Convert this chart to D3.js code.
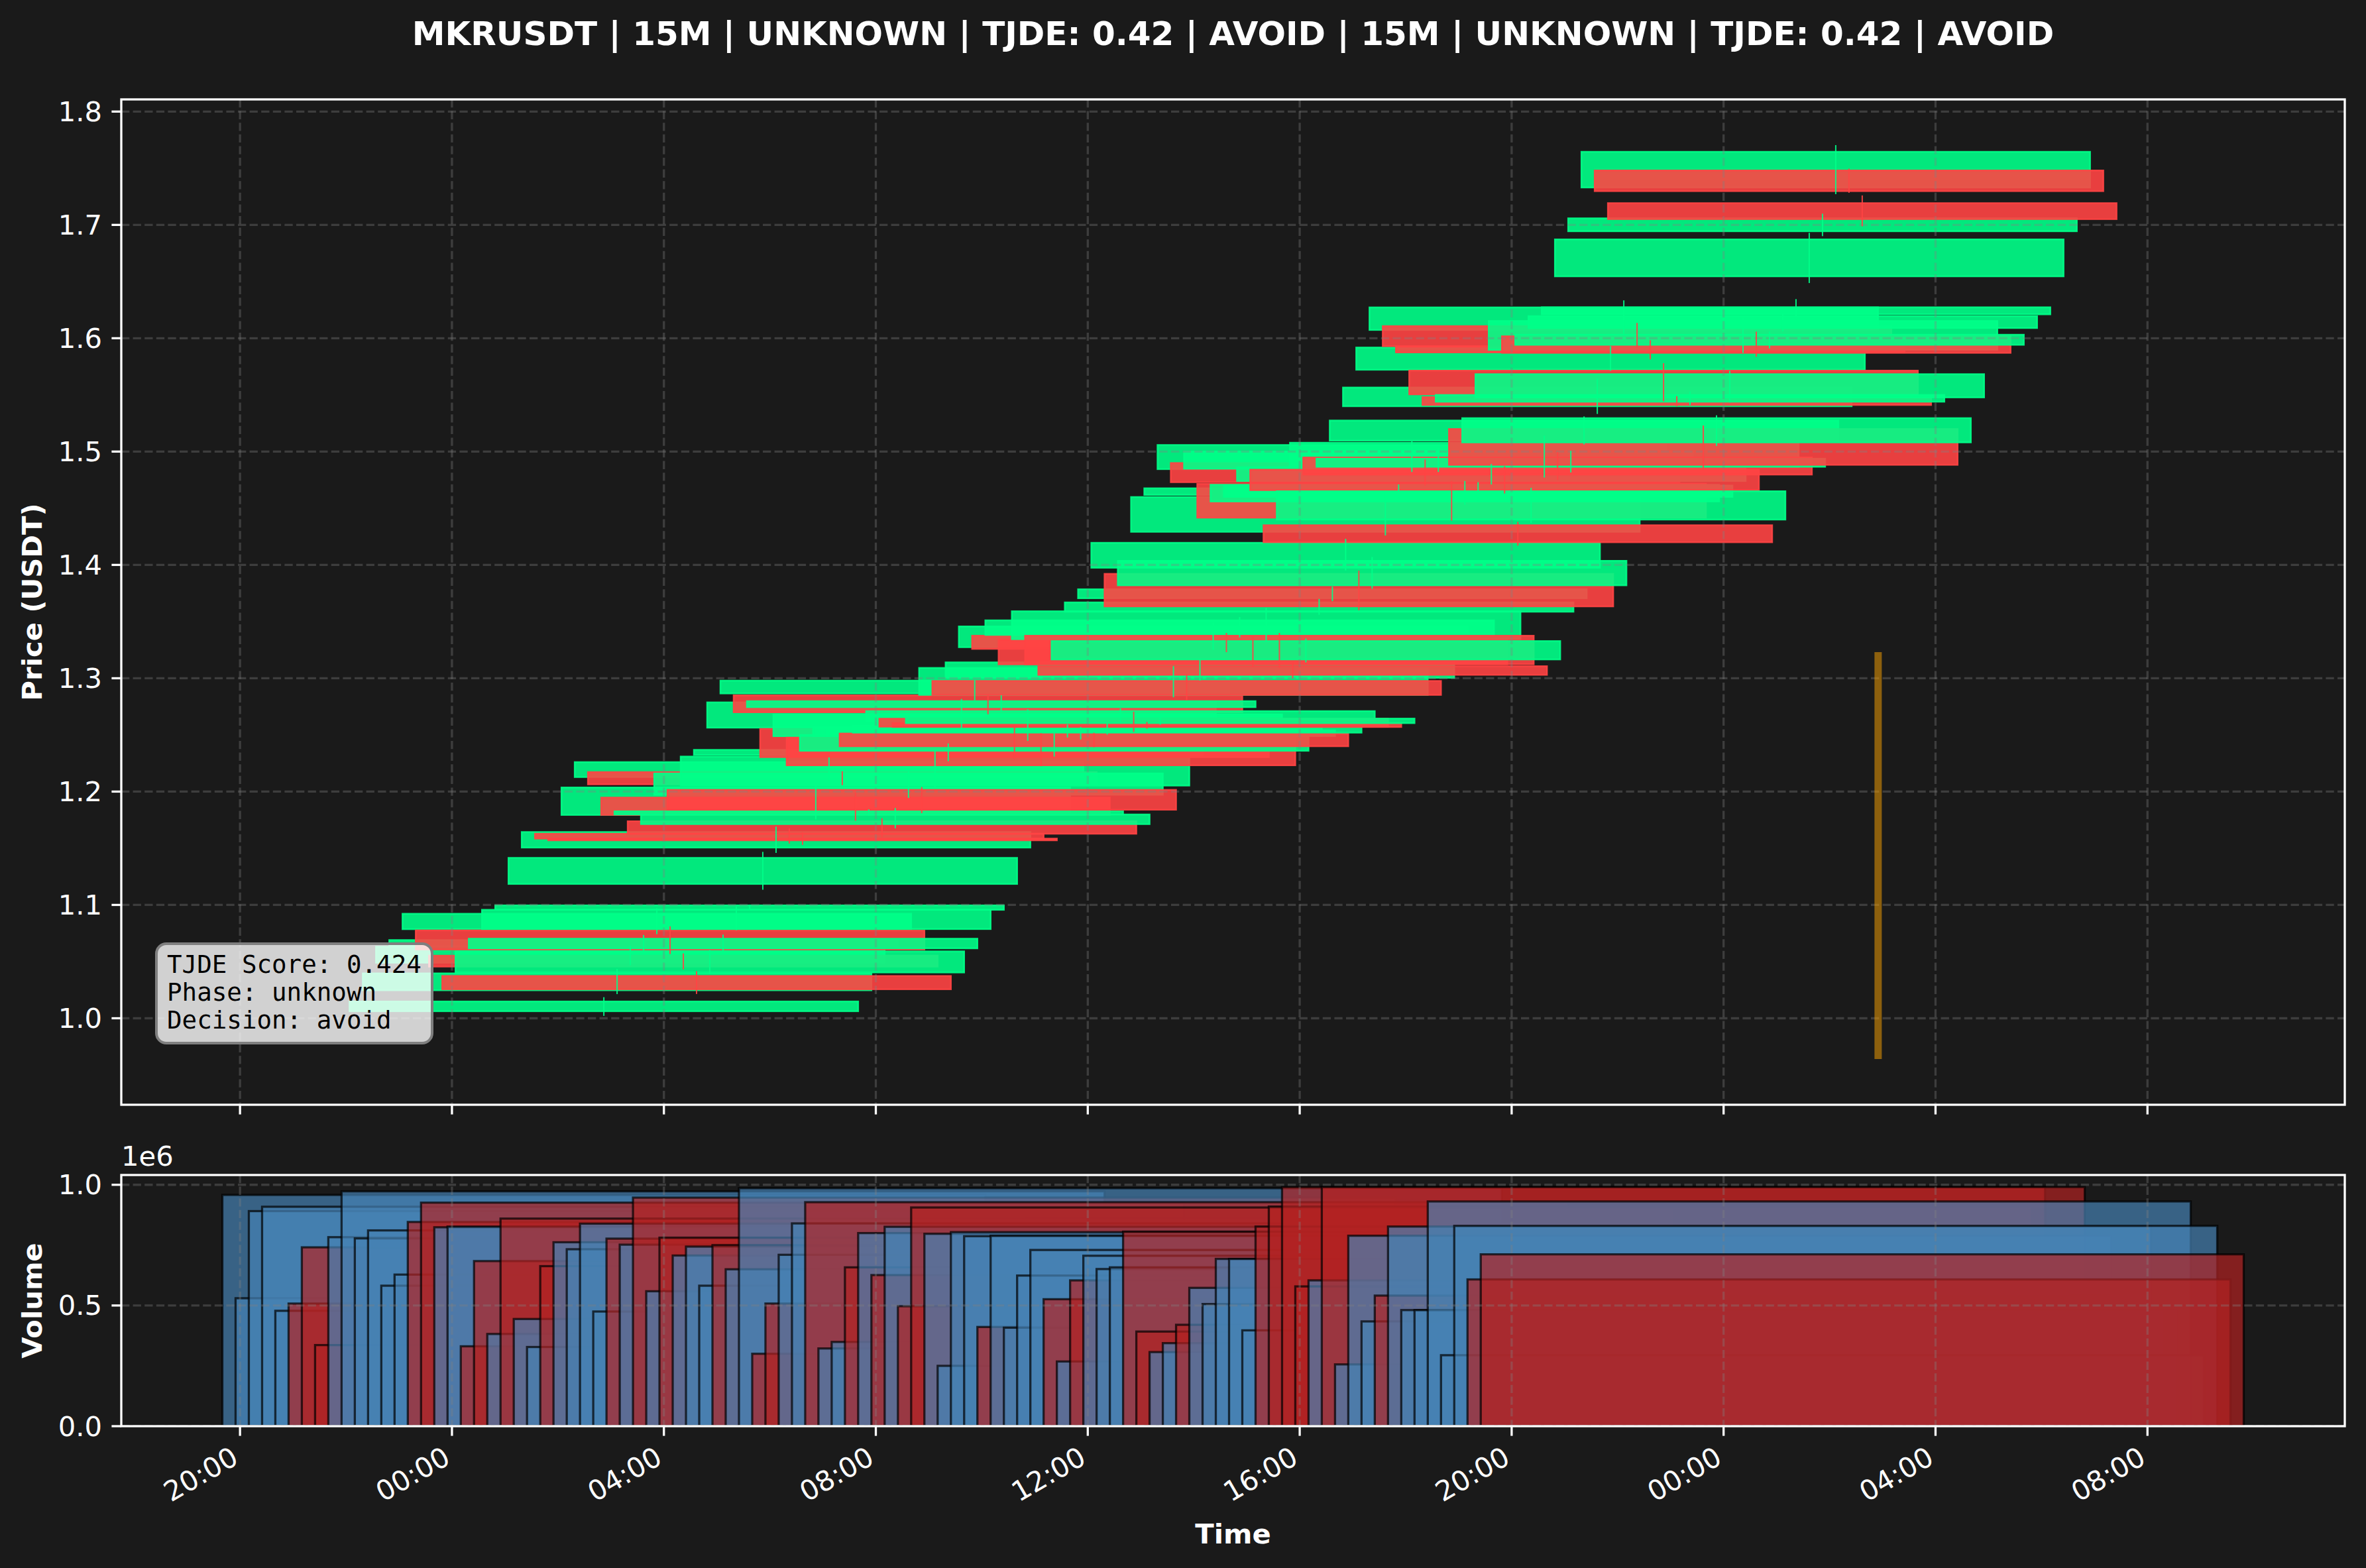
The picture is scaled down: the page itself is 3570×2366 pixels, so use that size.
<!DOCTYPE html>
<html>
<head>
<meta charset="utf-8">
<script src="https://cdn.jsdelivr.net/npm/d3@7"></script>
<style>
  body { margin: 0; background: #1a1a1a; }
  svg { display: block; font-family: "DejaVu Sans", sans-serif; }
</style>
</head>
<body>
<svg id="chart" width="3570" height="2366"></svg>
<script>
"use strict";

// ---- data (15m candles, UTC) ----
const times = [
  "2025-06-13 02:52","2025-06-13 03:07","2025-06-13 03:22","2025-06-13 03:37","2025-06-13 03:52","2025-06-13 04:07",
  "2025-06-13 04:22","2025-06-13 04:37","2025-06-13 04:52","2025-06-13 05:07","2025-06-13 05:22","2025-06-13 05:37",
  "2025-06-13 05:52","2025-06-13 06:07","2025-06-13 06:22","2025-06-13 06:37","2025-06-13 06:52","2025-06-13 07:07",
  "2025-06-13 07:22","2025-06-13 07:37","2025-06-13 07:52","2025-06-13 08:07","2025-06-13 08:22","2025-06-13 08:37",
  "2025-06-13 08:52","2025-06-13 09:07","2025-06-13 09:22","2025-06-13 09:37","2025-06-13 09:52","2025-06-13 10:07",
  "2025-06-13 10:22","2025-06-13 10:37","2025-06-13 10:52","2025-06-13 11:07","2025-06-13 11:22","2025-06-13 11:37",
  "2025-06-13 11:52","2025-06-13 12:07","2025-06-13 12:22","2025-06-13 12:37","2025-06-13 12:52","2025-06-13 13:07",
  "2025-06-13 13:22","2025-06-13 13:37","2025-06-13 13:52","2025-06-13 14:07","2025-06-13 14:22","2025-06-13 14:37",
  "2025-06-13 14:52","2025-06-13 15:07","2025-06-13 15:22","2025-06-13 15:37","2025-06-13 15:52","2025-06-13 16:07",
  "2025-06-13 16:22","2025-06-13 16:37","2025-06-13 16:52","2025-06-13 17:07","2025-06-13 17:22","2025-06-13 17:37",
  "2025-06-13 17:52","2025-06-13 18:07","2025-06-13 18:22","2025-06-13 18:37","2025-06-13 18:52","2025-06-13 19:07",
  "2025-06-13 19:22","2025-06-13 19:37","2025-06-13 19:52","2025-06-13 20:07","2025-06-13 20:22","2025-06-13 20:37",
  "2025-06-13 20:52","2025-06-13 21:07","2025-06-13 21:22","2025-06-13 21:37","2025-06-13 21:52","2025-06-13 22:07",
  "2025-06-13 22:22","2025-06-13 22:37","2025-06-13 22:52","2025-06-13 23:07","2025-06-13 23:22","2025-06-13 23:37",
  "2025-06-13 23:52","2025-06-14 00:07","2025-06-14 00:22","2025-06-14 00:37","2025-06-14 00:52","2025-06-14 01:07",
  "2025-06-14 01:22","2025-06-14 01:37","2025-06-14 01:52","2025-06-14 02:07","2025-06-14 02:22","2025-06-14 02:37"
];

const opens = [
  1.0062,1.0247,1.0490,1.0635,1.0786,1.0775,1.0552,1.0373,1.0404,1.0617,1.0787,1.0957,
  1.1185,1.1506,1.1628,1.1585,1.1794,1.2128,1.2172,1.1947,1.1798,1.1738,1.1713,1.1972,
  1.2015,1.2053,1.2323,1.2564,1.2866,1.2849,1.2745,1.2553,1.2489,1.2476,1.2360,1.2490,
  1.2490,1.2512,1.2520,1.2620,1.2643,1.2604,1.2604,1.2853,1.2976,1.3004,1.3274,1.3375,
  1.3382,1.3339,1.3345,1.3375,1.3106,1.3166,1.3587,1.3706,1.3975,1.3921,1.3820,1.4292,
  1.4618,1.4845,1.4899,1.4849,1.4715,1.4560,1.4600,1.4740,1.4840,1.4350,1.4400,1.4862,
  1.4948,1.4866,1.5097,1.5400,1.5722,1.6073,1.6107,1.5925,1.5714,1.5480,1.5440,1.5199,
  1.5081,1.5478,1.5898,1.6017,1.5942,1.6090,1.6211,1.6546,1.6944,1.7330,1.7480,1.7192
];

const closes = [
  1.0148,1.0396,1.0632,1.0690,1.0922,1.0607,1.0456,1.0256,1.0590,1.0702,1.0957,1.0996,
  1.1415,1.1643,1.1585,1.1570,1.2036,1.2260,1.2064,1.1794,1.1826,1.1628,1.1798,1.2160,
  1.1840,1.2309,1.2368,1.2787,1.2979,1.2700,1.2798,1.2304,1.2681,1.2232,1.2500,1.2570,
  1.2540,1.2400,1.2580,1.2710,1.2573,1.2570,1.2644,1.3091,1.2853,1.3140,1.3457,1.3259,
  1.3511,1.3123,1.3591,1.3123,1.3030,1.3328,1.3669,1.3785,1.4195,1.3634,1.4036,1.4599,
  1.4676,1.5058,1.4730,1.5000,1.4417,1.4707,1.4700,1.4862,1.4660,1.4200,1.4650,1.5078,
  1.4797,1.4937,1.5274,1.5565,1.5918,1.6272,1.5930,1.5875,1.5505,1.5411,1.5500,1.4883,
  1.5295,1.5683,1.6152,1.5871,1.6031,1.6195,1.6273,1.6872,1.7058,1.7645,1.7298,1.7051
];

const highs = [
  1.0186,1.0436,1.0640,1.0735,1.0970,1.0811,1.0572,1.0415,1.0602,1.0738,1.0985,1.1000,
  1.1468,1.1691,1.1676,1.1642,1.2056,1.2302,1.2179,1.1990,1.1843,1.1765,1.1855,1.2179,
  1.2040,1.2369,1.2425,1.2817,1.2984,1.2850,1.2850,1.2580,1.2727,1.2515,1.2515,1.2593,
  1.2570,1.2519,1.2608,1.2734,1.2705,1.2615,1.2660,1.3107,1.3029,1.3170,1.3490,1.3400,
  1.3540,1.3370,1.3620,1.3400,1.3140,1.3350,1.3700,1.3810,1.4230,1.3950,1.4070,1.4630,
  1.4710,1.5090,1.4930,1.5030,1.4740,1.4740,1.4730,1.4890,1.4870,1.4380,1.4680,1.5141,
  1.4996,1.5007,1.5310,1.5646,1.5930,1.6334,1.6135,1.5982,1.5780,1.5489,1.5530,1.5230,
  1.5320,1.5713,1.6180,1.6058,1.6060,1.6220,1.6345,1.6930,1.7099,1.7704,1.7496,1.7260
];

const lows = [
  1.0021,1.0213,1.0468,1.0596,1.0742,1.0566,1.0431,1.0214,1.0394,1.0589,1.0777,1.0951,
  1.1134,1.1459,1.1541,1.1530,1.1754,1.2100,1.2056,1.1743,1.1787,1.1600,1.1676,1.1944,
  1.1810,1.2030,1.2268,1.2540,1.2805,1.2682,1.2705,1.2285,1.2447,1.2224,1.2309,1.2477,
  1.2460,1.2391,1.2503,1.2604,1.2526,1.2555,1.2590,1.2832,1.2805,1.2980,1.3250,1.3230,
  1.3360,1.3100,1.3320,1.3090,1.3000,1.3140,1.3560,1.3680,1.3950,1.3600,1.3790,1.4260,
  1.4590,1.4820,1.4700,1.4820,1.4390,1.4530,1.4570,1.4710,1.4630,1.4170,1.4370,1.4771,
  1.4749,1.4816,1.5063,1.5332,1.5713,1.6040,1.5915,1.5814,1.5444,1.5399,1.5410,1.4850,
  1.5050,1.5433,1.5870,1.5836,1.5910,1.6060,1.6190,1.6487,1.6901,1.7271,1.7283,1.6987
];

const volumes = [
  958000,530000,891000,909000,478000,508000,741000,336000,783000,973000,778000,811000,
  582000,628000,846000,926000,824000,827000,331000,684000,382000,860000,444000,328000,
  663000,762000,733000,839000,475000,777000,752000,947000,559000,781000,707000,744000,
  582000,750000,650000,986000,300000,508000,710000,840000,928000,322000,349000,658000,
  800000,626000,826000,497000,906000,797000,250000,804000,787000,411000,789000,408000,
  624000,730000,526000,268000,604000,706000,651000,658000,806000,392000,307000,344000,
  420000,573000,506000,693000,693000,397000,827000,910000,991000,579000,604000,991000,
  256000,789000,434000,541000,827000,481000,481000,931000,294000,830000,608000,712000
];

// vertical signal marker on the price panel
const markerTime = "2025-06-14 02:55";
const markerRange = [0.964, 1.323];

const titleText = "MKRUSDT | 15M | UNKNOWN | TJDE: 0.42 | AVOID | 15M | UNKNOWN | TJDE: 0.42 | AVOID";
const infoLines = ["TJDE Score: 0.424", "Phase: unknown", "Decision: avoid"];

// ---- layout ----
const width = 3570, height = 2366;
const main = { left: 183, right: 3538, top: 150, bottom: 1667 };
const vol = { left: 183, right: 3538, top: 1773, bottom: 2152 };
const DAY = 864e5;
const bodyW = 0.4 * DAY;   // candle body width
const volW = 0.6 * DAY;    // volume bar width
const upColor = "#00ff88", downColor = "#ff4444";
const volUp = "#4682b4", volDown = "#b22222";
const gridColor = "#808080";
const fontPx = 41.7;

const parse = d3.utcParse("%Y-%m-%d %H:%M");
const candles = times.map((t, i) => ({
  t: parse(t), o: opens[i], h: highs[i], l: lows[i], c: closes[i], v: volumes[i]
}));
const markerDate = parse(markerTime);

// ---- scales ----
let xMin = d3.min(candles, d => +d.t) - volW / 2;
let xMax = d3.max(candles, d => +d.t) + volW / 2;
let xPad = (xMax - xMin) * 0.05;
const x = d3.scaleUtc()
  .domain([new Date(xMin - xPad), new Date(xMax + xPad)])
  .range([main.left, main.right]);

let yLo = Math.min(d3.min(lows), markerRange[0]);
let yHi = Math.max(d3.max(highs), markerRange[1]);
let yPad = (yHi - yLo) * 0.05;
const y = d3.scaleLinear().domain([yLo - yPad, yHi + yPad]).range([main.bottom, main.top]);

const yv = d3.scaleLinear().domain([0, d3.max(volumes) * 1.05]).range([vol.bottom, vol.top]);

const xTicks = x.ticks(d3.utcHour.every(4));
const yTicks = d3.range(10, 19).map(v => v / 10);
const yvTicks = [0, 500000, 1000000];

const svg = d3.select("#chart");
svg.append("rect").attr("width", width).attr("height", height).attr("fill", "#1a1a1a");

const defs = svg.append("defs");
defs.append("clipPath").attr("id", "clipMain").append("rect")
  .attr("x", main.left).attr("y", main.top)
  .attr("width", main.right - main.left).attr("height", main.bottom - main.top);
defs.append("clipPath").attr("id", "clipVol").append("rect")
  .attr("x", vol.left).attr("y", vol.top)
  .attr("width", vol.right - vol.left).attr("height", vol.bottom - vol.top);

// ---- title ----
svg.append("text")
  .attr("x", (main.left + main.right) / 2).attr("y", 68)
  .attr("text-anchor", "middle")
  .attr("fill", "#ffffff").attr("font-weight", "bold").attr("font-size", "50px")
  .text(titleText);

function drawGrid(g, box, yScale, yVals) {
  g.selectAll(".hgrid").data(yVals).enter().append("line")
    .attr("x1", box.left).attr("x2", box.right)
    .attr("y1", d => yScale(d)).attr("y2", d => yScale(d))
    .attr("stroke", gridColor).attr("stroke-opacity", 0.35)
    .attr("stroke-width", 3.3).attr("stroke-dasharray", "12.3,5.3");
  g.selectAll(".vgrid").data(xTicks).enter().append("line")
    .attr("x1", d => x(d)).attr("x2", d => x(d))
    .attr("y1", box.top).attr("y2", box.bottom)
    .attr("stroke", gridColor).attr("stroke-opacity", 0.35)
    .attr("stroke-width", 3.3).attr("stroke-dasharray", "12.3,5.3");
}

function drawFrame(box, yScale, yVals, fmt) {
  const g = svg.append("g");
  g.append("rect")
    .attr("x", box.left).attr("y", box.top)
    .attr("width", box.right - box.left).attr("height", box.bottom - box.top)
    .attr("fill", "none").attr("stroke", "#ffffff").attr("stroke-width", 3.3);
  // y ticks
  g.selectAll(".yt").data(yVals).enter().append("line")
    .attr("x1", box.left - 14.6).attr("x2", box.left)
    .attr("y1", d => yScale(d)).attr("y2", d => yScale(d))
    .attr("stroke", "#ffffff").attr("stroke-width", 3.3);
  g.selectAll(".yl").data(yVals).enter().append("text")
    .attr("x", box.left - 29).attr("y", d => yScale(d))
    .attr("text-anchor", "end").attr("dominant-baseline", "central")
    .attr("fill", "#ffffff").attr("font-size", fontPx + "px")
    .text(fmt);
  // x ticks
  g.selectAll(".xt").data(xTicks).enter().append("line")
    .attr("x1", d => x(d)).attr("x2", d => x(d))
    .attr("y1", box.bottom).attr("y2", box.bottom + 14.6)
    .attr("stroke", "#ffffff").attr("stroke-width", 3.3);
  return g;
}

// ---- price panel ----
const pg = svg.append("g").attr("clip-path", "url(#clipMain)");

pg.selectAll(".body").data(candles).enter().append("rect")
  .attr("x", d => x(new Date(+d.t - bodyW / 2)))
  .attr("width", d => x(new Date(+d.t + bodyW / 2)) - x(new Date(+d.t - bodyW / 2)))
  .attr("y", d => y(Math.max(d.o, d.c)))
  .attr("height", d => Math.max(1, y(Math.min(d.o, d.c)) - y(Math.max(d.o, d.c))))
  .attr("fill", d => d.c >= d.o ? upColor : downColor)
  .attr("fill-opacity", 0.9)
  .attr("stroke", d => d.c >= d.o ? upColor : downColor)
  .attr("stroke-opacity", 0.9)
  .attr("stroke-width", 2.5);

drawGrid(pg, main, y, yTicks);

pg.selectAll(".wick").data(candles).enter().append("line")
  .attr("x1", d => x(d.t)).attr("x2", d => x(d.t))
  .attr("y1", d => y(d.h)).attr("y2", d => y(d.l))
  .attr("stroke", d => d.c >= d.o ? upColor : downColor)
  .attr("stroke-opacity", 0.9)
  .attr("stroke-width", 2);

pg.append("line")
  .attr("x1", x(markerDate)).attr("x2", x(markerDate))
  .attr("y1", y(markerRange[0])).attr("y2", y(markerRange[1]))
  .attr("stroke", "#ffa500").attr("stroke-opacity", 0.5)
  .attr("stroke-width", 11);

drawFrame(main, y, yTicks, d => d.toFixed(1));

svg.append("text")
  .attr("transform", `translate(48,${(main.top + main.bottom) / 2}) rotate(-90)`)
  .attr("text-anchor", "middle").attr("dominant-baseline", "central")
  .attr("fill", "#ffffff").attr("font-weight", "bold").attr("font-size", fontPx + "px")
  .text("Price (USDT)");

// info box
const info = svg.append("g");
info.append("rect")
  .attr("x", 236).attr("y", 1424).attr("width", 416).attr("height", 150)
  .attr("rx", 15).attr("ry", 15)
  .attr("fill", "#ffffff").attr("fill-opacity", 0.8)
  .attr("stroke", "#7f7f7f").attr("stroke-width", 4);
info.selectAll("text").data(infoLines).enter().append("text")
  .attr("x", 252).attr("y", (d, i) => 1468 + i * 42)
  .attr("fill", "#000000")
  .attr("font-family", "'DejaVu Sans Mono', monospace").attr("font-size", "37.5px")
  .attr("xml:space", "preserve")
  .text(d => d);

// ---- volume panel ----
const vg = svg.append("g").attr("clip-path", "url(#clipVol)");
vg.selectAll(".vbar").data(candles).enter().append("rect")
  .attr("x", d => x(new Date(+d.t - volW / 2)))
  .attr("width", d => x(new Date(+d.t + volW / 2)) - x(new Date(+d.t - volW / 2)))
  .attr("y", d => yv(d.v))
  .attr("height", d => yv(0) - yv(d.v))
  .attr("fill", d => d.c >= d.o ? volUp : volDown)
  .attr("fill-opacity", 0.7)
  .attr("stroke", "#000000").attr("stroke-opacity", 0.7)
  .attr("stroke-width", 3.3);

drawGrid(vg, vol, yv, yvTicks);

const vf = drawFrame(vol, yv, yvTicks, d => (d / 1e6).toFixed(1));

vf.selectAll(".xl").data(xTicks).enter().append("text")
  .attr("transform", d => `translate(${x(d)},${vol.bottom + 55}) rotate(-30)`)
  .attr("text-anchor", "end")
  .attr("fill", "#ffffff").attr("font-size", fontPx + "px")
  .text(d3.utcFormat("%H:%M"));

svg.append("text")
  .attr("x", vol.left).attr("y", 1759)
  .attr("fill", "#ffffff").attr("font-size", fontPx + "px")
  .text("1e6");

svg.append("text")
  .attr("transform", `translate(48,${(vol.top + vol.bottom) / 2}) rotate(-90)`)
  .attr("text-anchor", "middle").attr("dominant-baseline", "central")
  .attr("fill", "#ffffff").attr("font-weight", "bold").attr("font-size", fontPx + "px")
  .text("Volume");

svg.append("text")
  .attr("x", (vol.left + vol.right) / 2).attr("y", 2329)
  .attr("text-anchor", "middle")
  .attr("fill", "#ffffff").attr("font-weight", "bold").attr("font-size", fontPx + "px")
  .text("Time");
</script>
</body>
</html>
